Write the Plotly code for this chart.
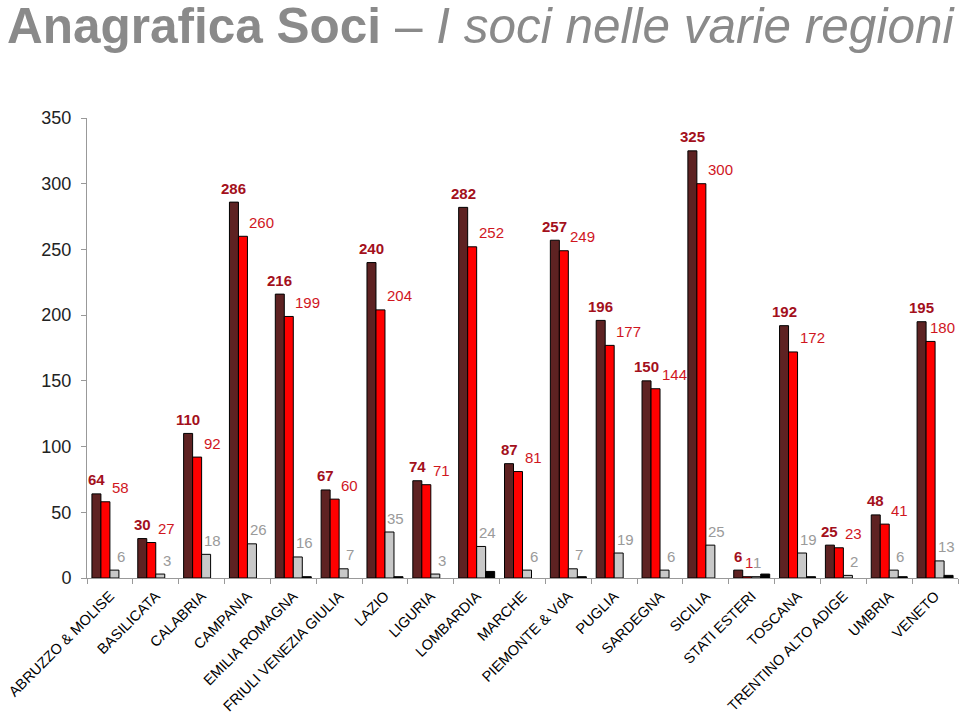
import plotly.graph_objects as go

regions = ["ABRUZZO & MOLISE", "BASILICATA", "CALABRIA", "CAMPANIA", "EMILIA ROMAGNA",
           "FRIULI VENEZIA GIULIA", "LAZIO", "LIGURIA", "LOMBARDIA", "MARCHE",
           "PIEMONTE & VdA", "PUGLIA", "SARDEGNA", "SICILIA", "STATI ESTERI",
           "TOSCANA", "TRENTINO ALTO ADIGE", "UMBRIA", "VENETO"]
serie_1 = [64, 30, 110, 286, 216, 67, 240, 74, 282, 87, 257, 196, 150, 325, 6, 192, 25, 48, 195]
serie_2 = [58, 27, 92, 260, 199, 60, 204, 71, 252, 81, 249, 177, 144, 300, 1, 172, 23, 41, 180]
serie_3 = [6, 3, 18, 26, 16, 7, 35, 3, 24, 6, 7, 19, 6, 25, 1, 19, 2, 6, 13]
serie_4 = [0, 0, 0, 0, 1, 0, 1, 0, 5, 0, 1, 0, 0, 0, 3, 1, 0, 1, 2]

colors = ["#5e2222", "#ff0000", "#c8c8c8", "#000000"]
label_colors = ["#a3101c", "#d0161e", "#9a9a9a"]
BARGAP = 0.215
FONT = "Liberation Sans, Arial, sans-serif"

fig = go.Figure()
for vals, col in zip([serie_1, serie_2, serie_3, serie_4], colors):
    fig.add_trace(go.Bar(
        x=regions, y=[v if v else None for v in vals],
        marker=dict(color=col, line=dict(color="#000000", width=1)),
        showlegend=False, hoverinfo="x+y"))

w = (1 - BARGAP) / 4
ann = []
for i in range(len(regions)):
    ann.append(dict(x=i - 1.5 * w, y=serie_1[i], xref="x", yref="y", text="<b>%d</b>" % serie_1[i],
                    showarrow=False, xanchor="center", yanchor="middle", yshift=14,
                    font=dict(size=15, color=label_colors[0], family=FONT)))
    xs2 = 0
    xs3 = 2
    if i == len(regions) - 1:
        xs2 = -7
    if regions[i] == "STATI ESTERI":
        xs2, xs3 = -9, -4
    ann.append(dict(x=i, y=serie_2[i], xref="x", yref="y", text="%d" % serie_2[i],
                    showarrow=False, xanchor="left", yanchor="middle", yshift=14, xshift=xs2,
                    font=dict(size=15, color=label_colors[1], family=FONT)))
    ann.append(dict(x=i + w, y=serie_3[i], xref="x", yref="y", text="%d" % serie_3[i],
                    showarrow=False, xanchor="center", yanchor="middle", yshift=14, xshift=xs3,
                    font=dict(size=15, color=label_colors[2], family=FONT)))

ann.append(dict(xref="paper", yref="paper", x=-87 / 871, y=1 + 122 / 460, xshift=5,
                xanchor="left", yanchor="top", showarrow=False,
                text="<b>Anagrafica Soci</b> – <i>I soci nelle varie regioni</i>",
                font=dict(size=49.5, color="#8a8a8a", family=FONT)))

fig.update_layout(
    width=960, height=718,
    margin=dict(l=87, r=2, t=118, b=140, autoexpand=False),
    paper_bgcolor="white", plot_bgcolor="white",
    barmode="group", bargap=BARGAP, bargroupgap=0,
    font=dict(family=FONT, color="#000000"),
    annotations=ann,
    xaxis=dict(type="category", range=[-0.5, len(regions) - 0.5], showline=True,
               linecolor="#999999", linewidth=1, ticks="outside", tickson="boundaries",
               ticklen=5, tickcolor="#999999", tickangle=-45, showgrid=False, automargin=False,
               ticklabelstandoff=3, tickfont=dict(size=14.5, color="#000000")),
    yaxis=dict(range=[0, 350], dtick=50, showline=True, linecolor="#999999", linewidth=1,
               ticks="outside", ticklen=5, tickcolor="#999999", showgrid=False, zeroline=False,
               automargin=False, tickfont=dict(size=18, color="#222222"), ticklabelstandoff=6),
)

fig.write_html("out.html")
